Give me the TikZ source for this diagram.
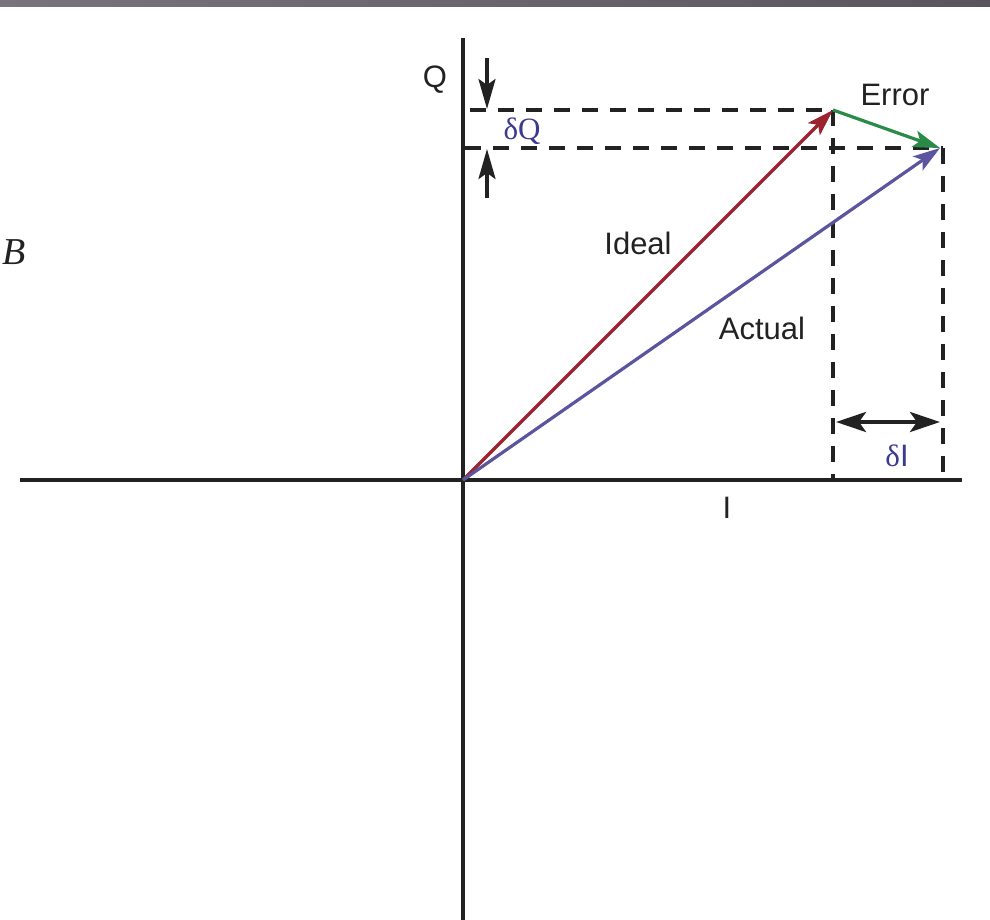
\documentclass[tikz,border=0pt]{standalone}
\usepackage{fontspec}
\setmainfont{Liberation Sans}
\newfontfamily\serifd{Liberation Serif}
\usetikzlibrary{arrows.meta}
\definecolor{idealred}{HTML}{9A2530}
\definecolor{actualblue}{HTML}{5A559E}
\definecolor{errgreen}{HTML}{2A8B48}
\definecolor{lbl}{HTML}{3A3A8E}
\definecolor{txt}{HTML}{222222}
\definecolor{barL}{HTML}{78747B}
\definecolor{barR}{HTML}{5A555D}
\tikzset{
  axis/.style={line width=4.5pt,draw=txt},
  vec/.style={line width=3.2pt,-{Stealth[length=27pt,width=17pt,inset=6pt]}},
  guide/.style={line width=4.5pt,draw=txt,dash pattern=on 16pt off 12pt},
  dim/.style={line width=3.5pt,draw=txt,-{Stealth[length=30pt,width=17pt,inset=6pt]}},
  lab/.style={font=\fontsize{31}{34}\selectfont,text=txt,inner sep=0pt},
}
\begin{document}
\begin{tikzpicture}[x=1pt,y=-1pt]
\useasboundingbox (0,0) rectangle (990,920);
\shade[left color=barL,right color=barR] (0,0) rectangle (990,7);
% coordinates
\coordinate (O) at (463,480);
\coordinate (Itip) at (833,110);
\coordinate (Atip) at (940,148);
\coordinate (xL) at (20,480);
\coordinate (xR) at (962,480);
\coordinate (yT) at (463,38);
\coordinate (yB) at (463,920);
% axes
\draw[axis] (xL) -- (xR);
\draw[axis] (yT) -- (yB);
% guides
\coordinate (g1s) at (470,110);
\coordinate (g2s) at (465,148);
\coordinate (g2e) at (943,148);
\coordinate (v1b) at (833,480);
\coordinate (v2b) at (943,480);
\draw[guide] (g1s) -- (Itip);
\draw[guide] (g2s) -- (g2e);
\draw[guide] (Itip) -- (v1b);
\draw[guide] (g2e) -- (v2b);
% vectors
\draw[vec,draw=idealred,fill=idealred] (O) -- (Itip);
\draw[vec,draw=actualblue,fill=actualblue] (O) -- (Atip);
\draw[vec,draw=errgreen,fill=errgreen] (Itip) -- (Atip);
% dimension arrows
\coordinate (dq1s) at (487,58);
\coordinate (dq1e) at (487,109);
\coordinate (dq2s) at (487,198);
\coordinate (dq2e) at (487,149);
\draw[dim,fill=txt] (dq1s) -- (dq1e);
\draw[dim,fill=txt] (dq2s) -- (dq2e);
\coordinate (di1) at (836,422);
\coordinate (di2) at (940,422);
\draw[line width=4pt,draw=txt,fill=txt,{Stealth[length=30pt,width=20pt,inset=7pt]}-{Stealth[length=30pt,width=20pt,inset=7pt]}] (di1) -- (di2);
% labels
\node[lab] (Q) at (435,80) {Q};
\node[lab,text=lbl] (dQ) at (522,131) {\serifd δQ};
\node[lab] (err) at (895,95) {Error};
\node[lab] (ideal) at (638,243) {Ideal};
\node[lab] (actual) at (762,328) {Actual};
\node[lab,text=lbl] (dI) at (897,456) {{\serifd δ}I};
\node[lab] (Ilab) at (727,508) {I};
\node[inner sep=0pt,text=txt,font=\serifd\itshape\fontsize{38}{40}\selectfont] (B) at (14,252) {B};
\end{tikzpicture}
\end{document}
